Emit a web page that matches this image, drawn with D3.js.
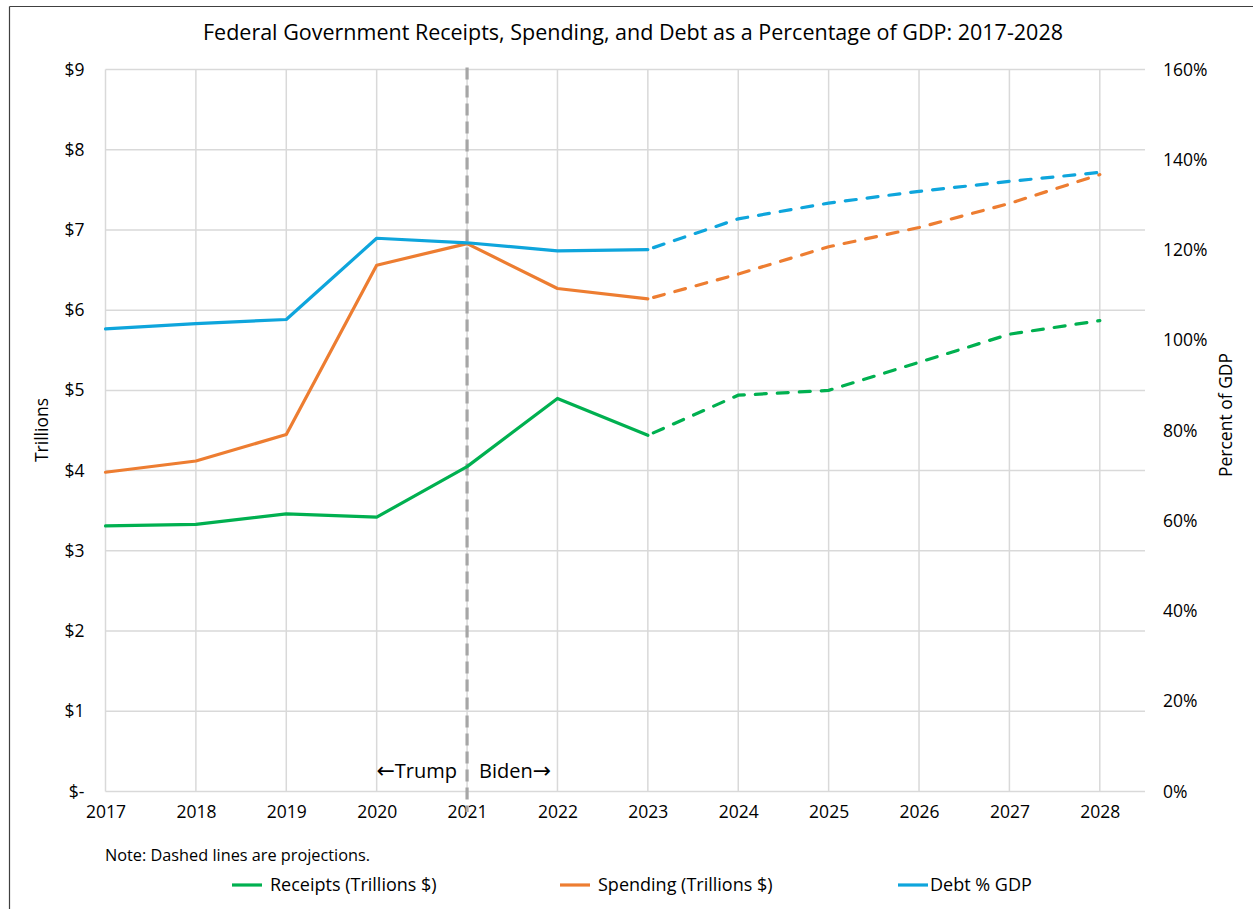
<!DOCTYPE html>
<html>
<head>
<meta charset="utf-8">
<script src="https://cdn.jsdelivr.net/npm/d3@7"></script>
<style>
  html, body { margin: 0; padding: 0; background: #fff; }
  svg { display: block; }
  text { font-family: "Open Sans", "Noto Sans", "Liberation Sans", sans-serif; fill: #000; }
</style>
</head>
<body>
<svg id="chart" width="1253" height="909"></svg>
<script>
// Fiscal years shown on the horizontal axis
const years = [2017, 2018, 2019, 2020, 2021, 2022, 2023, 2024, 2025, 2026, 2027, 2028];
// Federal receipts, trillions of dollars
const receipts = [3.31, 3.33, 3.46, 3.42, 4.05, 4.90, 4.44, 4.94, 5.00, 5.35, 5.70, 5.87];
// Federal spending, trillions of dollars
const spending = [3.98, 4.12, 4.45, 6.56, 6.83, 6.27, 6.14, 6.45, 6.79, 7.03, 7.33, 7.69];
// Debt as a percentage of GDP
const debtPct = [102.5, 103.7, 104.6, 122.6, 121.6, 119.8, 120.1, 126.9, 130.4, 133.0, 135.2, 137.2];
// Last year of actual figures; later years are projections (dashed)
const lastActualYear = 2023;
// Year marking the change of administration
const transitionYear = 2021;

const leftTicks = [0, 1, 2, 3, 4, 5, 6, 7, 8, 9];
const leftTickLabels = ["$-", "$1", "$2", "$3", "$4", "$5", "$6", "$7", "$8", "$9"];
const rightTicks = [0, 20, 40, 60, 80, 100, 120, 140, 160];

const title = "Federal Government Receipts, Spending, and Debt as a Percentage of GDP: 2017-2028";
const seriesNames = ["Receipts (Trillions $)", "Spending (Trillions $)", "Debt % GDP"];
const colors = ["#00b050", "#ed7d31", "#0ea5dc"];

const svg = d3.select("#chart");
const tickFont = "17.5px";

// Outer frame (left and top edges visible)
svg.append("line").attr("x1", 9.5).attr("x2", 9.5).attr("y1", 6.5).attr("y2", 909)
  .attr("stroke", "#404040").attr("stroke-width", 1.2);
svg.append("line").attr("x1", 9.5).attr("x2", 1253).attr("y1", 6.5).attr("y2", 6.5)
  .attr("stroke", "#404040").attr("stroke-width", 1.2);

const plot = { left: 105.5, right: 1145, top: 69.5, bottom: 791.5 };

const x = d3.scaleLinear().domain([2017, 2028.5]).range([plot.left, plot.right]);
const yL = d3.scaleLinear().domain([0, 9]).range([plot.bottom, plot.top]);
const yR = d3.scaleLinear().domain([0, 160]).range([plot.bottom, plot.top]);

// Title
svg.append("text").attr("x", 633).attr("y", 40).attr("text-anchor", "middle")
  .style("font-size", "21.5px").text(title);

// Gridlines
const grid = svg.append("g");
grid.selectAll("line.h").data(leftTicks).join("line")
  .attr("x1", plot.left).attr("x2", plot.right)
  .attr("y1", d => yL(d)).attr("y2", d => yL(d))
  .attr("stroke", "#d9d9d9").attr("stroke-width", 1.5);
grid.selectAll("line.v").data(years).join("line")
  .attr("x1", d => x(d)).attr("x2", d => x(d))
  .attr("y1", plot.top).attr("y2", plot.bottom)
  .attr("stroke", "#d9d9d9").attr("stroke-width", 1.5);

// Left axis
const leftAxis = d3.axisLeft(yL).tickValues(leftTicks).tickSize(0).tickPadding(21)
  .tickFormat((d, i) => leftTickLabels[i]);
const gL = svg.append("g").attr("transform", `translate(${plot.left},0)`).call(leftAxis);
gL.select(".domain").remove();
gL.selectAll("text").style("font-size", tickFont).attr("fill", "#000")
  .style("font-family", "\"Open Sans\", sans-serif");

// Right axis
const rightAxis = d3.axisRight(yR).tickValues(rightTicks).tickSize(0).tickPadding(18)
  .tickFormat(d => d + "%");
const gR = svg.append("g").attr("transform", `translate(${plot.right},0)`).call(rightAxis);
gR.select(".domain").remove();
gR.selectAll("text").style("font-size", tickFont).attr("fill", "#000")
  .style("font-family", "\"Open Sans\", sans-serif");

// Bottom axis
const bottomAxis = d3.axisBottom(x).tickValues(years).tickSize(0).tickPadding(14)
  .tickFormat(d3.format("d"));
const gB = svg.append("g").attr("transform", `translate(0,${plot.bottom})`).call(bottomAxis);
gB.select(".domain").remove();
gB.selectAll("text").style("font-size", tickFont).attr("fill", "#000")
  .style("font-family", "\"Open Sans\", sans-serif");

// Axis titles
svg.append("text").attr("transform", `translate(48,430) rotate(-90)`)
  .attr("text-anchor", "middle").style("font-size", "17.5px").text("Trillions");
svg.append("text").attr("transform", `translate(1232,415) rotate(-90)`)
  .attr("text-anchor", "middle").style("font-size", "17.5px").text("Percent of GDP");

// Administration divider
svg.append("line").attr("x1", x(transitionYear)).attr("x2", x(transitionYear))
  .attr("y1", plot.top - 2).attr("y2", 812)
  .attr("stroke", "#a6a6a6").attr("stroke-width", 3.2).attr("stroke-dasharray", "12,6");
const trump = svg.append("text").attr("x", x(transitionYear) - 10).attr("y", 778)
  .attr("text-anchor", "end").style("font-size", "20px");
trump.append("tspan").style("font-family", "\"DejaVu Sans\", sans-serif").style("font-size", "22px").text("\u2190");
trump.append("tspan").text("Trump");
const biden = svg.append("text").attr("x", x(transitionYear) + 12).attr("y", 778)
  .attr("text-anchor", "start").style("font-size", "20px");
biden.append("tspan").text("Biden");
biden.append("tspan").style("font-family", "\"DejaVu Sans\", sans-serif").style("font-size", "22px").text("\u2192");

// Series lines: solid for actuals, dashed for projections
const series = [
  { values: receipts, scale: yL, color: colors[0] },
  { values: spending, scale: yL, color: colors[1] },
  { values: debtPct, scale: yR, color: colors[2] }
];
const lines = svg.append("g");
series.forEach(s => {
  const pts = years.map((yr, i) => ({ yr, v: s.values[i] }));
  const line = d3.line().x(d => x(d.yr)).y(d => s.scale(d.v));
  lines.append("path").datum(pts.filter(d => d.yr <= lastActualYear))
    .attr("d", line).attr("fill", "none").attr("stroke", s.color)
    .attr("stroke-width", 3.2).attr("stroke-linejoin", "round").attr("stroke-linecap", "round");
  lines.append("path").datum(pts.filter(d => d.yr >= lastActualYear))
    .attr("d", line).attr("fill", "none").attr("stroke", s.color)
    .attr("stroke-width", 3.2).attr("stroke-dasharray", "11,11").attr("stroke-dashoffset", -6)
    .attr("stroke-linecap", "round");
});

// Footnote
svg.append("text").attr("x", 105).attr("y", 861).style("font-size", "16.3px")
  .text("Note: Dashed lines are projections.");

// Legend
const legendX = [232, 560, 898];
const legend = svg.append("g");
seriesNames.forEach((name, i) => {
  legend.append("line").attr("x1", legendX[i]).attr("x2", legendX[i] + 30)
    .attr("y1", 885).attr("y2", 885).attr("stroke", colors[i]).attr("stroke-width", 3.2);
  legend.append("text").attr("x", legendX[i] + (i === 2 ? 32 : 38)).attr("y", 891)
    .style("font-size", "18px").text(name);
});
</script>
</body>
</html>
